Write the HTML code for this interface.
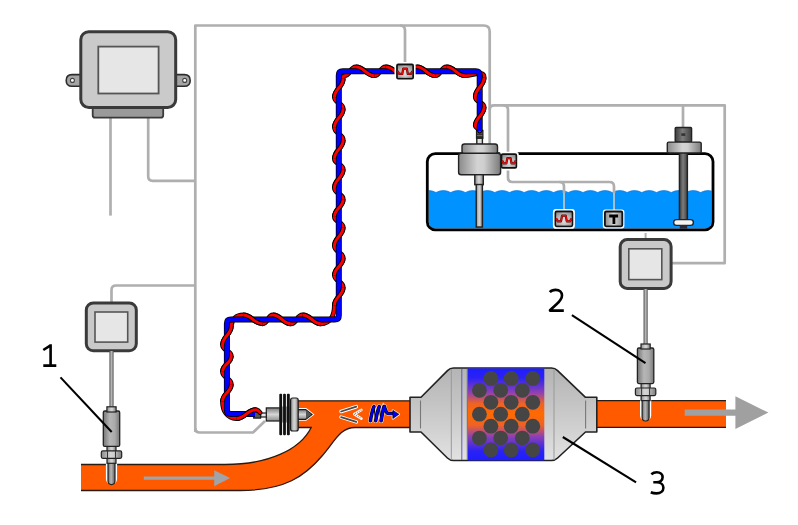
<!DOCTYPE html>
<html><head><meta charset="utf-8"><style>
html,body{margin:0;padding:0;background:#fff;}
svg{display:block;}
text{font-family:"Liberation Sans",sans-serif;}
</style></head><body>
<svg width="798" height="525" viewBox="0 0 798 525">
<defs>
<linearGradient id="gH" x1="0" x2="1" y1="0" y2="0">
<stop offset="0" stop-color="#8a8a8a"/><stop offset="0.45" stop-color="#d4d4d4"/><stop offset="0.6" stop-color="#cfcfcf"/><stop offset="1" stop-color="#7a7a7a"/>
</linearGradient>
<linearGradient id="gHd" x1="0" x2="1" y1="0" y2="0">
<stop offset="0" stop-color="#6a6a6a"/><stop offset="0.45" stop-color="#b8b8b8"/><stop offset="1" stop-color="#5a5a5a"/>
</linearGradient>
<linearGradient id="gBox" x1="0" x2="1" y1="0" y2="0">
<stop offset="0" stop-color="#8c8c8c"/><stop offset="0.5" stop-color="#d8d8d8"/><stop offset="1" stop-color="#8c8c8c"/>
</linearGradient>
<linearGradient id="gBoxV" x1="0" x2="0" y1="0" y2="1">
<stop offset="0" stop-color="#6c6c6c"/><stop offset="0.4" stop-color="#d8d8d8"/><stop offset="0.7" stop-color="#e0e0e0"/><stop offset="1" stop-color="#9a9a9a"/>
</linearGradient>
<linearGradient id="gRod" x1="0" x2="1" y1="0" y2="0">
<stop offset="0" stop-color="#3c3c3c"/><stop offset="0.45" stop-color="#7c7c7c"/><stop offset="1" stop-color="#404040"/>
</linearGradient>
<linearGradient id="gSens" x1="0" x2="1" y1="0" y2="0">
<stop offset="0" stop-color="#767676"/><stop offset="0.4" stop-color="#b6b6b6"/><stop offset="0.7" stop-color="#aaaaaa"/><stop offset="1" stop-color="#787878"/>
</linearGradient>
<linearGradient id="gV" x1="0" x2="0" y1="0" y2="1">
<stop offset="0" stop-color="#7c7c7c"/><stop offset="0.5" stop-color="#d6d6d6"/><stop offset="1" stop-color="#8c8c8c"/>
</linearGradient>
<linearGradient id="gShell" x1="0" x2="0" y1="0" y2="1">
<stop offset="0" stop-color="#b4b4b4"/><stop offset="0.5" stop-color="#c9c9c9"/><stop offset="1" stop-color="#e2e2e2"/>
</linearGradient>
<linearGradient id="gCore" x1="0" x2="0" y1="0" y2="1">
<stop offset="0" stop-color="#1e1eff"/><stop offset="0.1" stop-color="#2a22f4"/><stop offset="0.26" stop-color="#8c40b4"/><stop offset="0.38" stop-color="#ee6226"/><stop offset="0.5" stop-color="#ff6a00"/><stop offset="0.62" stop-color="#ee6226"/><stop offset="0.74" stop-color="#8c40b4"/><stop offset="0.9" stop-color="#2a22f4"/><stop offset="1" stop-color="#1e1eff"/>
</linearGradient>
<clipPath id="tankclip"><rect x="428.6" y="155" width="283" height="73.6" rx="6.5"/></clipPath>
</defs>

<rect x="427.3" y="153.6" width="285.7" height="76.3" rx="8" fill="#fff"/>
<g clip-path="url(#tankclip)"><path d="M421.3 192.5Q428.65 188.6 436.00 192.5Q443.35 188.6 450.70 192.5Q458.05 188.6 465.40 192.5Q472.75 188.6 480.10 192.5Q487.45 188.6 494.80 192.5Q502.15 188.6 509.50 192.5Q516.85 188.6 524.20 192.5Q531.55 188.6 538.90 192.5Q546.25 188.6 553.60 192.5Q560.95 188.6 568.30 192.5Q575.65 188.6 583.00 192.5Q590.35 188.6 597.70 192.5Q605.05 188.6 612.40 192.5Q619.75 188.6 627.10 192.5Q634.45 188.6 641.80 192.5Q649.15 188.6 656.50 192.5Q663.85 188.6 671.20 192.5Q678.55 188.6 685.90 192.5Q693.25 188.6 700.60 192.5Q707.95 188.6 715.30 192.5Q722.65 188.6 730.00 192.5V240H421.3Z" fill="#0092ff" stroke="#0a74d8" stroke-width="0.7"/></g>
<g fill="none" stroke="#afafaf" stroke-width="2.7" stroke-linejoin="round">
<path d="M110.5 118V215.6"/>
<path d="M148.2 118V176.3Q148.2 180.8 152.7 180.8H195.3"/>
<path d="M195.3 428Q195.3 432.5 199.8 432.5H253L265 421"/>
<path d="M195.3 432V25.5H483.7Q489.7 25.5 489.7 31.5V146"/>
<path d="M400 25.5Q405 25.5 405 30.5V64"/>
<path d="M489.7 109.8Q489.7 105.3 494.2 105.3H724.7V263.2H671"/>
<path d="M683 105.3V127"/>
<path d="M503.5 105.3Q508 105.3 508 109.8V177.5Q508 182 512.5 182H609.5Q614 182 614 186.5V193"/>
<path d="M559.5 182Q564 182 564 186.5V193"/>
<path d="M111.5 302V290Q111.5 285.5 116 285.5H195.3"/>
</g>
<g fill="none" stroke="#b8c4d0" stroke-width="1.8"><path d="M564 193V211"/><path d="M614 193V211"/></g>
<rect x="427.3" y="153.6" width="285.7" height="76.3" rx="8" fill="none" stroke="#000" stroke-width="2.8"/>
<g stroke="#2c2c2c">
<path d="M82 74.6H72Q66.2 74.6 66.2 80.4Q66.2 86.2 72 86.2H82Z" fill="#a4a4a4" stroke-width="1.6"/>
<circle cx="72.4" cy="80.4" r="2" fill="#fff" stroke="#444" stroke-width="1.1"/>
<path d="M175 74.6H184.4Q190.2 74.6 190.2 80.4Q190.2 86.2 184.4 86.2H175Z" fill="#a4a4a4" stroke-width="1.6"/>
<circle cx="184.7" cy="80.4" r="2" fill="#fff" stroke="#444" stroke-width="1.1"/>
<rect x="92.7" y="103" width="70.5" height="14.7" rx="2.5" fill="#9a9a9a" stroke="#3a3a3a" stroke-width="1.8"/>
<rect x="80.8" y="31.7" width="94.9" height="75.8" rx="8" fill="#cacaca" stroke="#3a3a3a" stroke-width="3"/>
<rect x="98.3" y="46.6" width="60.3" height="46.9" fill="#e6e6e6" stroke="#555" stroke-width="1.8"/>
</g>
<rect x="86.3" y="302.9" width="50.00000000000001" height="47.90000000000001" rx="7" fill="#c9c9c9" stroke="#3a3a3a" stroke-width="3"/>
<rect x="95.0" y="312.0" width="32.699999999999996" height="30.099999999999987" fill="#e6e6e6" stroke="#555" stroke-width="1.6"/>
<path d="M645.6 233V239" stroke="#b0b0b0" stroke-width="2"/>
<rect x="620.2" y="239.6" width="50.899999999999956" height="48.80000000000002" rx="7" fill="#c9c9c9" stroke="#3a3a3a" stroke-width="3"/>
<rect x="628.8" y="248.8" width="33.00000000000002" height="30.799999999999976" fill="#e6e6e6" stroke="#555" stroke-width="1.6"/>
<rect x="500.7" y="153.3" width="16.500000000000057" height="15.5" rx="1.5" fill="#fff" stroke="#fff" stroke-width="3.2"/>
<rect x="501.59999999999997" y="154.20000000000002" width="14.700000000000056" height="13.7" rx="1.2" fill="url(#gBoxV)" stroke="#111" stroke-width="1.8"/>
<rect x="502.5" y="155.10000000000002" width="12.900000000000057" height="11.9" fill="url(#gBox)" opacity="0.55"/>
<path d="M502.07 160.57 L503.63 163.35 L506.38 163.35 L507.30 158.08 L510.60 158.08 L511.52 163.35 L514.27 163.35 L515.83 160.57" fill="none" stroke="#600" stroke-width="2.2" stroke-linejoin="round"/>
<path d="M502.07 160.57 L503.63 163.35 L506.38 163.35 L507.30 158.08 L510.60 158.08 L511.52 163.35 L514.27 163.35 L515.83 160.57" fill="none" stroke="#e01010" stroke-width="1.3" stroke-linejoin="round"/>
<g stroke="#222" stroke-width="1.4">
<rect x="476.8" y="137.5" width="5.6" height="7" fill="#ddd"/>
<rect x="476.6" y="130.5" width="6.2" height="7.7" fill="#333"/>
<rect x="462" y="144" width="35.5" height="10" rx="2.5" fill="url(#gH)"/>
<rect x="458.6" y="153.2" width="42" height="21.5" rx="2.5" fill="url(#gH)"/>
<rect x="474.8" y="174.7" width="8.5" height="10" fill="url(#gH)"/>
<rect x="476.2" y="184.5" width="6.2" height="42.5" fill="url(#gH)"/>
</g>
<line x1="477" y1="133" x2="482.4" y2="133" stroke="#777" stroke-width="0.8"/>
<line x1="477" y1="135.5" x2="482.4" y2="135.5" stroke="#777" stroke-width="0.8"/>

<g stroke="#222" stroke-width="1.4">
<rect x="679.4" y="152" width="8" height="70" fill="url(#gRod)"/>
<rect x="675.2" y="127.5" width="16.4" height="14.6" rx="1" fill="url(#gRod)"/>
<rect x="667.3" y="142.1" width="33.9" height="10.9" rx="1.5" fill="url(#gH)"/>
<rect x="673.6" y="219.6" width="19.8" height="5.8" rx="2.9" fill="#f4f4f4"/>
</g>
<rect x="681.3" y="133.3" width="4" height="2.6" fill="#333"/>
<rect x="679.8" y="225.5" width="7.4" height="3.2" fill="#2a2a3a"/>

<rect x="554.5" y="210.6" width="18.799999999999955" height="16.599999999999994" rx="1.5" fill="#fff" stroke="#fff" stroke-width="3.2"/>
<rect x="555.4" y="211.5" width="16.999999999999954" height="14.799999999999994" rx="1.2" fill="url(#gBoxV)" stroke="#111" stroke-width="1.8"/>
<rect x="556.3" y="212.4" width="15.199999999999955" height="12.999999999999995" fill="url(#gBox)" opacity="0.55"/>
<path d="M556.07 218.39 L557.84 221.36 L560.98 221.36 L562.02 215.72 L565.78 215.72 L566.82 221.36 L569.96 221.36 L571.73 218.39" fill="none" stroke="#600" stroke-width="2.2" stroke-linejoin="round"/>
<path d="M556.07 218.39 L557.84 221.36 L560.98 221.36 L562.02 215.72 L565.78 215.72 L566.82 221.36 L569.96 221.36 L571.73 218.39" fill="none" stroke="#e01010" stroke-width="1.3" stroke-linejoin="round"/>
<rect x="604" y="210.6" width="19.2" height="16.6" rx="1.5" fill="#fff" stroke="#fff" stroke-width="2.4"/>
<rect x="604.9" y="211.5" width="17.4" height="14.8" rx="1.2" fill="url(#gBox)" stroke="#111" stroke-width="1.8"/>
<path d="M609.2 214.6H618.1V217.5H615.3V224.1H612.5V217.5H609.2Z" fill="#000"/>
<path d="M81 464.5H225C268 464.5 300 450 311.2 427.5H298V400.8H410V427.5H355C340 427.5 335 441 322 456C305 476 285 490.5 240 490.5H81Z" fill="#ff5a00"/>
<path d="M81 464.5H225C268 464.5 300 450 311.2 427.5H298M298 400.8H410M410 427.5H355C340 427.5 335 441 322 456C305 476 285 490.5 240 490.5H81" fill="none" stroke="#2a1a10" stroke-width="1.3"/>
<rect x="596" y="400.7" width="130" height="26.6" fill="#ff5a00"/>
<path d="M596 400.7H726M596 427.3H726" stroke="#2a1a10" stroke-width="1.3"/>
<path d="M143.8 476.5H214.2V470.2L230 478L214.2 486.3V479.8H143.8Z" fill="#a0a4a8"/>
<path d="M684.7 409.6H735.4V396.3L768.4 412.6L735.4 428.9V415.8H684.7Z" fill="#a0a0a0"/>
<path d="M410 397.3H421L447.5 370.6Q450 368 453.5 368H551.5Q555 368 557.6 370.6L585.5 397.3H596.8V432H585.5L557.6 458Q555 460.5 551.5 460.5H453.5Q450 460.5 447.4 458L421 432H410Z" fill="url(#gShell)" stroke="#222" stroke-width="1.6" stroke-linejoin="round"/>
<rect x="467.9" y="368.4" width="76.4" height="92" fill="url(#gCore)"/>
<line x1="420.5" y1="400.5" x2="420.5" y2="428.5" stroke="#777" stroke-width="1.1"/>
<line x1="585.6" y1="400.5" x2="585.6" y2="428.5" stroke="#777" stroke-width="1.1"/>
<line x1="451.3" y1="369" x2="451.3" y2="460" stroke="#999" stroke-width="1"/>
<line x1="461.8" y1="369" x2="461.8" y2="460" stroke="#5050c0" stroke-width="0.9"/>
<line x1="467.3" y1="369" x2="467.3" y2="460" stroke="#666" stroke-width="1"/>
<line x1="554" y1="369" x2="554" y2="460" stroke="#999" stroke-width="1"/>

<g fill="#454545">
<circle cx="490.9" cy="378.4" r="7.4"/>
<circle cx="511.2" cy="378.4" r="7.4"/>
<circle cx="532.8" cy="378.4" r="7.4"/>
<circle cx="479.4" cy="390.3" r="7.4"/>
<circle cx="500.7" cy="390.3" r="7.4"/>
<circle cx="522.3" cy="390.3" r="7.4"/>
<circle cx="490.9" cy="402.3" r="7.4"/>
<circle cx="511.2" cy="402.3" r="7.4"/>
<circle cx="532.8" cy="402.3" r="7.4"/>
<circle cx="479.4" cy="414.2" r="7.4"/>
<circle cx="500.7" cy="414.2" r="7.4"/>
<circle cx="522.3" cy="414.2" r="7.4"/>
<circle cx="490.9" cy="426.2" r="7.4"/>
<circle cx="511.2" cy="426.2" r="7.4"/>
<circle cx="532.8" cy="426.2" r="7.4"/>
<circle cx="479.4" cy="438.1" r="7.4"/>
<circle cx="500.7" cy="438.1" r="7.4"/>
<circle cx="522.3" cy="438.1" r="7.4"/>
<circle cx="490.9" cy="450.0" r="7.4"/>
<circle cx="511.2" cy="450.0" r="7.4"/>
<circle cx="532.8" cy="450.0" r="7.4"/>
</g>
<path d="M111.5 351V406.8" stroke="#5a5a5a" stroke-width="4.2"/>
<path d="M111.5 351V406.8" stroke="#b4b4b4" stroke-width="2.1"/>
<path d="M105.9 458.3V479.0A5.6 5.6 0 0 0 117.1 479.0V458.3Z" fill="#fff"/>
<path d="M108.0 458.3V481.1A3.5 3.5 0 0 0 115.0 481.1V458.3Z" fill="url(#gHd)" stroke="#222" stroke-width="1.2"/>
<rect x="107.0" y="445.4" width="9" height="6.5" fill="url(#gH)" stroke="#222" stroke-width="1.2"/>
<rect x="107.0" y="457.3" width="9" height="6" fill="url(#gH)" stroke="#222" stroke-width="1.2"/>
<rect x="101.3" y="450.9" width="20.4" height="7.400000000000034" rx="1.5" fill="url(#gH)" stroke="#222" stroke-width="1.2"/>
<line x1="107.5" y1="450.9" x2="107.5" y2="458.3" stroke="#333" stroke-width="1"/>
<line x1="115.5" y1="450.9" x2="115.5" y2="458.3" stroke="#333" stroke-width="1"/>
<rect x="103.3" y="411" width="16.4" height="35.39999999999998" rx="1.5" fill="url(#gSens)" stroke="#222" stroke-width="1.3"/>
<rect x="106.9" y="406.8" width="9.2" height="5.199999999999989" fill="url(#gH)" stroke="#222" stroke-width="1.2"/>
<path d="M645.6 289V344" stroke="#5a5a5a" stroke-width="4.2"/>
<path d="M645.6 289V344" stroke="#b4b4b4" stroke-width="2.1"/>
<path d="M640.0 395.6V415.4A5.6 5.6 0 0 0 651.2 415.4V395.6Z" fill="#fff"/>
<path d="M642.1 395.6V417.5A3.5 3.5 0 0 0 649.1 417.5V395.6Z" fill="url(#gHd)" stroke="#222" stroke-width="1.2"/>
<rect x="641.1" y="382.6" width="9" height="6.399999999999977" fill="url(#gH)" stroke="#222" stroke-width="1.2"/>
<rect x="641.1" y="394.6" width="9" height="6" fill="url(#gH)" stroke="#222" stroke-width="1.2"/>
<rect x="635.4" y="388" width="20.4" height="7.600000000000023" rx="1.5" fill="url(#gH)" stroke="#222" stroke-width="1.2"/>
<line x1="641.6" y1="388" x2="641.6" y2="395.6" stroke="#333" stroke-width="1"/>
<line x1="649.6" y1="388" x2="649.6" y2="395.6" stroke="#333" stroke-width="1"/>
<rect x="637.4" y="348" width="16.4" height="35.60000000000002" rx="1.5" fill="url(#gSens)" stroke="#222" stroke-width="1.3"/>
<rect x="641.0" y="344" width="9.2" height="5" fill="url(#gH)" stroke="#222" stroke-width="1.2"/>
<g stroke="#1a1a1a" stroke-width="1.2">
<path d="M297 409.6H305.7L312 414.5L305.7 419.3H297Z" fill="#fff" stroke="#fff" stroke-width="3"/>
<path d="M297 409.6H305.7L312 414.5L305.7 419.3H297Z" fill="url(#gV)"/>
<path d="M306 410.2L311.3 414.5L306 418.8Z" fill="#555" stroke="none"/>
<rect x="290.6" y="398" width="7.6" height="33" rx="2" fill="url(#gH)"/>
<rect x="266.3" y="407.9" width="13.7" height="13.1" fill="url(#gV)"/>
<rect x="279.6" y="406.5" width="10" height="16" fill="#9a9a9a" stroke="none"/>
<rect x="279.3" y="393.8" width="2.8" height="41.4" rx="1" fill="#111" stroke="none"/>
<rect x="283.1" y="393.8" width="2.8" height="41.4" rx="1" fill="#111" stroke="none"/>
<rect x="286.9" y="393.8" width="2.9" height="41.4" rx="1" fill="#111" stroke="none"/>
<rect x="260.6" y="413" width="5.7" height="4" fill="#e8e8e8"/>
<rect x="253.7" y="412" width="6.9" height="6.1" fill="#555"/>
</g>
<g stroke-linecap="round" fill="none">
<path d="M341.1 411.5L356.3 406.7M341.1 417.1L356.3 421.9" stroke="#fff" stroke-width="3.6"/>
<path d="M341.1 411.5L356.3 406.7M341.1 417.1L356.3 421.9" stroke="#4a4a4a" stroke-width="1.8"/>
<path d="M361.4 409.9L354.2 414.2L361.4 418.6" stroke="#fff" stroke-width="2.6" stroke-linejoin="round"/>
<path d="M361.4 409.9L354.2 414.2L361.4 418.6" stroke="#8a8a8a" stroke-width="1.3" stroke-dasharray="1 1.1" stroke-linecap="butt"/>
</g>
<path d="M370.4 420.8C371.2 416 372.8 409 374.0 406.6 M375.7 420.8C376.5 416 378.1 409 379.3 406.6 M381.0 420.8C381.8 416 383.4 409 384.6 406.6 M381.2 420.8C382 416 382.8 410 384 406.6C385.5 408 385.5 413.6 388.5 413.6H393.5 M374.0 406.6L375.7 420.8 M379.3 406.6L381.0 420.8" fill="none" stroke="#fff" stroke-width="4.6" stroke-linecap="round" opacity="0.8"/>
<path d="M392.9 410.4L398.8 414.2L392.9 418.4Z" fill="#fff" stroke="#fff" stroke-width="2.4" stroke-linejoin="round" opacity="0.8"/>
<path d="M374.0 406.6L375.7 420.8 M379.3 406.6L381.0 420.8" fill="none" stroke="#000" stroke-width="1.1"/>
<path d="M370.4 420.8C371.2 416 372.8 409 374.0 406.6 M375.7 420.8C376.5 416 378.1 409 379.3 406.6 M381.0 420.8C381.8 416 383.4 409 384.6 406.6 M381.2 420.8C382 416 382.8 410 384 406.6C385.5 408 385.5 413.6 388.5 413.6H393.5" fill="none" stroke="#000" stroke-width="3.5" stroke-linecap="round" stroke-linejoin="round"/>
<path d="M370.4 420.8C371.2 416 372.8 409 374.0 406.6 M375.7 420.8C376.5 416 378.1 409 379.3 406.6 M381.0 420.8C381.8 416 383.4 409 384.6 406.6 M381.2 420.8C382 416 382.8 410 384 406.6C385.5 408 385.5 413.6 388.5 413.6H393.5" fill="none" stroke="#0000f0" stroke-width="2.3" stroke-linecap="round" stroke-linejoin="round"/>
<path d="M392.9 410.4L398.8 414.2L392.9 418.4Z" fill="#0000f0" stroke="#000" stroke-width="0.7"/>
<path d="M479.7 131C479.7 128.5 475.3 128 475.3 126C475.3 117.2 484.1 115.9 484.1 107.1C484.1 101.5 475.3 102.6 475.3 97.0C475.3 88.0 484.1 86.5 484.1 77.5C484.1 69.4 473.1 75.7 465.0 75.7C456.4 75.7 455.0 66.9 446.4 66.9C440.5 66.9 441.2 75.7 435.3 75.7C426.7 75.7 425.4 66.9 416.8 66.9C410.6 66.9 411.2 75.7 405.0 75.7C396.0 75.7 394.5 66.9 385.5 66.9C379.6 66.9 380.4 75.7 374.5 75.7C365.9 75.7 364.5 66.9 355.9 66.9C349.9 66.9 350.5 75.7 344.5 75.7C343.1 75.7 343.2 77.3 343.2 78.7C343.2 87.3 334.4 88.7 334.4 97.3C334.4 103.3 343.2 102.7 343.2 108.7C343.2 117.3 334.4 118.7 334.4 127.3C334.4 133.8 343.2 133.5 343.2 140.0C343.2 148.7 334.4 150.0 334.4 158.7C334.4 164.5 343.2 163.5 343.2 169.3C343.2 178.0 334.4 179.3 334.4 188.0C334.4 194.0 343.2 193.3 343.2 199.3C343.2 207.5 334.4 208.5 334.4 216.7C334.4 222.5 343.2 221.5 343.2 227.3C343.2 236.0 334.4 237.3 334.4 246.0C334.4 252.2 343.2 251.8 343.2 258.0C343.2 266.2 334.4 267.1 334.4 275.3C334.4 281.5 343.2 281.1 343.2 287.3C343.2 295.8 334.4 297.0 334.4 305.5C334.4 315.1 330.5 323.8 320.9 323.8C312.4 323.8 311.1 315.0 302.6 315.0C296.4 315.0 297.0 323.8 290.8 323.8C282.5 323.8 281.3 315.0 273.0 315.0C267.2 315.0 268.3 323.8 262.5 323.8C253.6 323.8 252.1 315.0 243.2 315.0C236.4 315.0 231.3 319.2 231.3 326.0C231.3 334.8 222.5 336.2 222.5 345.0C222.5 350.9 231.3 350.1 231.3 356.0C231.3 363.6 222.5 364.1 222.5 371.7C222.5 378.2 231.3 377.8 231.3 384.3C231.3 392.4 222.5 393.3 222.5 401.4C222.5 410.6 227.1 418.5 236.3 418.5C245.4 418.5 246.9 409.7 256.0 409.7C258 410.2 259 411 260 412.5" fill="none" stroke="#000" stroke-width="4.8" stroke-linecap="round"/>
<path d="M479.7 131C479.7 128.5 475.3 128 475.3 126C475.3 117.2 484.1 115.9 484.1 107.1C484.1 101.5 475.3 102.6 475.3 97.0C475.3 88.0 484.1 86.5 484.1 77.5C484.1 69.4 473.1 75.7 465.0 75.7C456.4 75.7 455.0 66.9 446.4 66.9C440.5 66.9 441.2 75.7 435.3 75.7C426.7 75.7 425.4 66.9 416.8 66.9C410.6 66.9 411.2 75.7 405.0 75.7C396.0 75.7 394.5 66.9 385.5 66.9C379.6 66.9 380.4 75.7 374.5 75.7C365.9 75.7 364.5 66.9 355.9 66.9C349.9 66.9 350.5 75.7 344.5 75.7C343.1 75.7 343.2 77.3 343.2 78.7C343.2 87.3 334.4 88.7 334.4 97.3C334.4 103.3 343.2 102.7 343.2 108.7C343.2 117.3 334.4 118.7 334.4 127.3C334.4 133.8 343.2 133.5 343.2 140.0C343.2 148.7 334.4 150.0 334.4 158.7C334.4 164.5 343.2 163.5 343.2 169.3C343.2 178.0 334.4 179.3 334.4 188.0C334.4 194.0 343.2 193.3 343.2 199.3C343.2 207.5 334.4 208.5 334.4 216.7C334.4 222.5 343.2 221.5 343.2 227.3C343.2 236.0 334.4 237.3 334.4 246.0C334.4 252.2 343.2 251.8 343.2 258.0C343.2 266.2 334.4 267.1 334.4 275.3C334.4 281.5 343.2 281.1 343.2 287.3C343.2 295.8 334.4 297.0 334.4 305.5C334.4 315.1 330.5 323.8 320.9 323.8C312.4 323.8 311.1 315.0 302.6 315.0C296.4 315.0 297.0 323.8 290.8 323.8C282.5 323.8 281.3 315.0 273.0 315.0C267.2 315.0 268.3 323.8 262.5 323.8C253.6 323.8 252.1 315.0 243.2 315.0C236.4 315.0 231.3 319.2 231.3 326.0C231.3 334.8 222.5 336.2 222.5 345.0C222.5 350.9 231.3 350.1 231.3 356.0C231.3 363.6 222.5 364.1 222.5 371.7C222.5 378.2 231.3 377.8 231.3 384.3C231.3 392.4 222.5 393.3 222.5 401.4C222.5 410.6 227.1 418.5 236.3 418.5C245.4 418.5 246.9 409.7 256.0 409.7C258 410.2 259 411 260 412.5" fill="none" stroke="#ff0000" stroke-width="2.9" stroke-linecap="round"/>
<path d="M479.7 131V75.3Q479.7 71.3 475.7 71.3H342.8Q338.8 71.3 338.8 75.3V315.4Q338.8 319.4 334.8 319.4H230.9Q226.9 319.4 226.9 323.4V410.1Q226.9 414.1 230.9 414.1H255" fill="none" stroke="#000" stroke-width="6"/>
<path d="M479.7 131V75.3Q479.7 71.3 475.7 71.3H342.8Q338.8 71.3 338.8 75.3V315.4Q338.8 319.4 334.8 319.4H230.9Q226.9 319.4 226.9 323.4V410.1Q226.9 414.1 230.9 414.1H255" fill="none" stroke="#0000ff" stroke-width="4.5"/>
<path d="M475.3 126.0C475.3 117.2 484.1 115.9 484.1 107.1 M475.3 97.0C475.3 88.0 484.1 86.5 484.1 77.5 M465.0 75.7C456.4 75.7 455.0 66.9 446.4 66.9 M435.3 75.7C426.7 75.7 425.4 66.9 416.8 66.9 M405.0 75.7C396.0 75.7 394.5 66.9 385.5 66.9 M374.5 75.7C365.9 75.7 364.5 66.9 355.9 66.9 M343.2 78.7C343.2 87.3 334.4 88.7 334.4 97.3 M343.2 108.7C343.2 117.3 334.4 118.7 334.4 127.3 M343.2 140.0C343.2 148.7 334.4 150.0 334.4 158.7 M343.2 169.3C343.2 178.0 334.4 179.3 334.4 188.0 M343.2 199.3C343.2 207.5 334.4 208.5 334.4 216.7 M343.2 227.3C343.2 236.0 334.4 237.3 334.4 246.0 M343.2 258.0C343.2 266.2 334.4 267.1 334.4 275.3 M343.2 287.3C343.2 295.8 334.4 297.0 334.4 305.5 M320.9 323.8C312.4 323.8 311.1 315.0 302.6 315.0 M290.8 323.8C282.5 323.8 281.3 315.0 273.0 315.0 M262.5 323.8C253.6 323.8 252.1 315.0 243.2 315.0 M231.3 326.0C231.3 334.8 222.5 336.2 222.5 345.0 M231.3 356.0C231.3 363.6 222.5 364.1 222.5 371.7 M231.3 384.3C231.3 392.4 222.5 393.3 222.5 401.4 M236.3 418.5C245.4 418.5 246.9 409.7 256.0 409.7" fill="none" stroke="#000" stroke-width="4.8" stroke-linecap="butt"/>
<path d="M475.3 126.0C475.3 117.2 484.1 115.9 484.1 107.1 M475.3 97.0C475.3 88.0 484.1 86.5 484.1 77.5 M465.0 75.7C456.4 75.7 455.0 66.9 446.4 66.9 M435.3 75.7C426.7 75.7 425.4 66.9 416.8 66.9 M405.0 75.7C396.0 75.7 394.5 66.9 385.5 66.9 M374.5 75.7C365.9 75.7 364.5 66.9 355.9 66.9 M343.2 78.7C343.2 87.3 334.4 88.7 334.4 97.3 M343.2 108.7C343.2 117.3 334.4 118.7 334.4 127.3 M343.2 140.0C343.2 148.7 334.4 150.0 334.4 158.7 M343.2 169.3C343.2 178.0 334.4 179.3 334.4 188.0 M343.2 199.3C343.2 207.5 334.4 208.5 334.4 216.7 M343.2 227.3C343.2 236.0 334.4 237.3 334.4 246.0 M343.2 258.0C343.2 266.2 334.4 267.1 334.4 275.3 M343.2 287.3C343.2 295.8 334.4 297.0 334.4 305.5 M320.9 323.8C312.4 323.8 311.1 315.0 302.6 315.0 M290.8 323.8C282.5 323.8 281.3 315.0 273.0 315.0 M262.5 323.8C253.6 323.8 252.1 315.0 243.2 315.0 M231.3 326.0C231.3 334.8 222.5 336.2 222.5 345.0 M231.3 356.0C231.3 363.6 222.5 364.1 222.5 371.7 M231.3 384.3C231.3 392.4 222.5 393.3 222.5 401.4 M236.3 418.5C245.4 418.5 246.9 409.7 256.0 409.7" fill="none" stroke="#ff0000" stroke-width="2.9" stroke-linecap="butt"/>
<rect x="396.1" y="63.6" width="17.899999999999977" height="15.999999999999993" rx="1.5" fill="#fff" stroke="#fff" stroke-width="3.2"/>
<rect x="397.0" y="64.5" width="16.099999999999977" height="14.199999999999992" rx="1.2" fill="url(#gBoxV)" stroke="#111" stroke-width="1.8"/>
<rect x="397.90000000000003" y="65.4" width="14.299999999999978" height="12.399999999999993" fill="url(#gBox)" opacity="0.55"/>
<path d="M397.59 71.11 L399.28 73.97 L402.27 73.97 L403.26 68.54 L406.84 68.54 L407.83 73.97 L410.82 73.97 L412.51 71.11" fill="none" stroke="#600" stroke-width="2.2" stroke-linejoin="round"/>
<path d="M397.59 71.11 L399.28 73.97 L402.27 73.97 L403.26 68.54 L406.84 68.54 L407.83 73.97 L410.82 73.97 L412.51 71.11" fill="none" stroke="#e01010" stroke-width="1.3" stroke-linejoin="round"/>
<g stroke="#000" stroke-width="2.1">
<line x1="60.5" y1="377.4" x2="111.7" y2="432"/>
<line x1="571.9" y1="315.2" x2="645.5" y2="363.2"/>
<line x1="562.8" y1="437" x2="636.1" y2="482.3"/>
</g>
<g fill="none" stroke="#000" stroke-width="2.6" stroke-linejoin="round">
<path d="M43.3 350L50.6 345.3M50.6 344.2V366M43.3 365.6H56.3"/>
<path d="M549.8 292.2C551.3 290.4 553.3 289.9 555.6 289.9C559.7 289.9 562 292.3 562 295.5C562 298.8 559.8 301.3 556.5 304.3L550 310.3V310.6H563.8"/>
<path d="M651.3 474.2C653 472.8 655 472.3 656.8 472.3C660.5 472.3 662.6 474.5 662.6 477.3C662.6 480.5 660 482.3 656.5 482.3H653.3M656.5 482.3C661 482.3 663.4 484.8 663.4 487.8C663.4 491 660.6 493.4 656.5 493.4C654.5 493.4 652.5 493 650.8 492.2"/>
</g>
</svg></body></html>
